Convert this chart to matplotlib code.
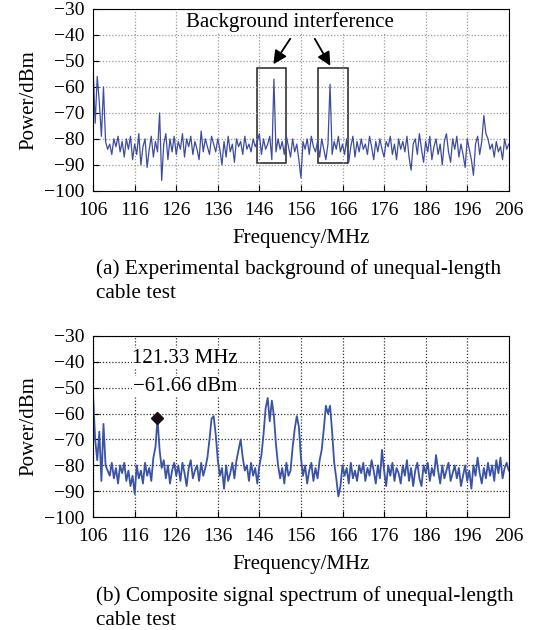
import numpy as np
import matplotlib.pyplot as plt
from matplotlib.patches import Rectangle

plt.rcParams['font.family'] = ['Liberation Serif', 'DejaVu Serif']
plt.rcParams['font.size'] = 14

# power readings every 0.5 MHz from 106 to 206 MHz
power_a = [
    -53, -74, -56, -66, -79, -60, -81, -84, -82, -86,
    -80, -83, -79, -85, -81, -87, -80, -84, -79, -88,
    -82, -86, -78, -90, -83, -80, -91, -84, -79, -87,
    -81, -85, -70, -96, -82, -78, -88, -80, -85, -79,
    -86, -81, -84, -78, -87, -80, -83, -79, -86, -81,
    -84, -88, -77, -85, -80, -83, -86, -79, -82, -85,
    -80, -84, -90, -81, -87, -79, -85, -82, -89, -80,
    -83, -81, -86, -79, -84, -82, -85, -80, -83, -81,
    -78, -86, -80, -84, -82, -79, -88, -57, -85, -80,
    -84, -81, -86, -79, -83, -87, -80, -85, -82, -88,
    -95, -81, -84, -80, -86, -79, -83, -85, -81, -87,
    -80, -84, -88, -82, -59, -86, -81, -84, -79, -85,
    -82, -86, -80, -89, -83, -79, -87, -81, -85, -80,
    -84, -82, -86, -79, -83, -88, -81, -85, -80, -84,
    -87, -81, -83, -79, -86, -82, -88, -80, -84, -81,
    -85, -79, -87, -92, -82, -80, -86, -78, -84, -89,
    -81, -85, -79, -88, -83, -80, -86, -82, -90, -81,
    -78, -85, -89, -80, -84, -79, -87, -82, -86, -91,
    -80, -84, -88, -94, -82, -79, -86, -81, -71, -78,
    -80, -84, -82, -87, -81, -85, -83, -88, -80, -84,
    -82,
]

power_b = [
    -53, -70, -78, -67, -86, -64, -80, -82, -84, -79,
    -85, -81, -87, -80, -83, -79, -86, -82, -88, -84,
    -91, -80, -85, -82, -87, -79, -84, -81, -86, -77,
    -73, -62, -74, -81, -78, -85, -80, -87, -82, -79,
    -84, -80, -86, -79, -83, -88, -81, -78, -85, -82,
    -80, -86, -79, -84, -81, -77, -70, -62, -61, -68,
    -78, -84, -81, -89, -80, -86, -83, -79, -85, -78,
    -74, -70, -77, -82, -80, -86, -79, -84, -81, -87,
    -80, -76, -68, -58, -54, -63, -55, -61, -72, -80,
    -85, -81, -87, -79, -84, -82, -73, -66, -61, -65,
    -77, -84, -80, -87, -82, -79, -86, -81, -85, -78,
    -74, -66, -57, -60, -57, -67, -79, -85, -92, -88,
    -80, -84, -81, -87, -79, -85, -82, -86, -80, -83,
    -79, -86, -81, -84, -78, -82, -87, -80, -85, -74,
    -82, -88, -80, -84, -79, -86, -81, -83, -87, -80,
    -84, -78, -86, -81, -88, -82, -79, -85, -88, -80,
    -83, -79, -86, -81, -84, -76, -82, -87, -80, -85,
    -82, -79, -86, -83, -80, -85, -81, -88, -84, -80,
    -86, -82, -89, -80, -84, -77, -83, -87, -81, -85,
    -79, -84, -80, -86, -78, -83, -77, -85, -81, -79,
    -82,
]

freq = np.linspace(106, 206, len(power_a))
xticks = list(range(106, 207, 10))
yticks = list(range(-100, -29, 10))

peak_freq = 121.33
peak_power = -61.66

fig = plt.figure(figsize=(5.35, 6.30), dpi=100)
ax1 = fig.add_axes([0.174, 0.697, 0.777, 0.289])
ax2 = fig.add_axes([0.174, 0.179, 0.777, 0.288])

def style(ax, gridcolor):
    ax.set_xlim(106, 206)
    ax.set_ylim(-100, -30)
    ax.set_xticks(xticks)
    ax.set_yticks(yticks)
    ax.grid(True, linestyle=(0, (1, 1.5)), color=gridcolor, linewidth=0.9)
    ax.tick_params(direction='in', length=4, labelsize=14)
    ax.tick_params(axis='x', pad=8)
    ax.tick_params(axis='y', pad=6)
    ax.set_xlabel('Frequency/MHz', fontsize=15, labelpad=7)
    ax.set_ylabel('Power/dBm', fontsize=15, labelpad=4)

ax1.plot(freq, power_a, color='#3d4c9f', linewidth=0.9)
style(ax1, '#9a9a9a')
ax1.add_patch(Rectangle((145.4, -89.2), 7.0, 36.5, fill=False, edgecolor='#222222', linewidth=1.1))
ax1.add_patch(Rectangle((160.1, -89.2), 7.2, 36.5, fill=False, edgecolor='#222222', linewidth=1.1))
ax1.text(153.4, -35, 'Background interference', ha='center', va='center', fontsize=15,
         bbox=dict(facecolor='white', edgecolor='none', pad=0.5))
ax1.annotate('', xy=(149.0, -52.2), xytext=(153.8, -40.6),
             arrowprops=dict(arrowstyle='-|>', color='black', lw=1.3, mutation_scale=20))
ax1.annotate('', xy=(163.4, -52.8), xytext=(159.0, -40.6),
             arrowprops=dict(arrowstyle='-|>', color='black', lw=1.3, mutation_scale=20))

ax2.plot(freq, power_b, color='#3a53a4', linewidth=1.3)
style(ax2, '#333333')
ax2.plot([peak_freq], [peak_power], marker='D', color='#1a0a14', markersize=6)
ax2.text(128.1, -38.8, '{:.2f} MHz'.format(peak_freq), ha='center', va='center', fontsize=15,
         bbox=dict(facecolor='white', edgecolor='none', pad=0.5))
ax2.text(128.1, -49.6, '\u2212{:.2f} dBm'.format(abs(peak_power)), ha='center', va='center',
         fontsize=15, bbox=dict(facecolor='white', edgecolor='none', pad=0.5))

fig.text(0.179, 1 - 259 / 630, '(a) Experimental background of unequal-length\ncable test',
         ha='left', va='top', fontsize=15.3, linespacing=1.33)
fig.text(0.179, 1 - 586 / 630, '(b) Composite signal spectrum of unequal-length\ncable test',
         ha='left', va='top', fontsize=15.3, linespacing=1.33)

fig.savefig('out.png', dpi=100)
